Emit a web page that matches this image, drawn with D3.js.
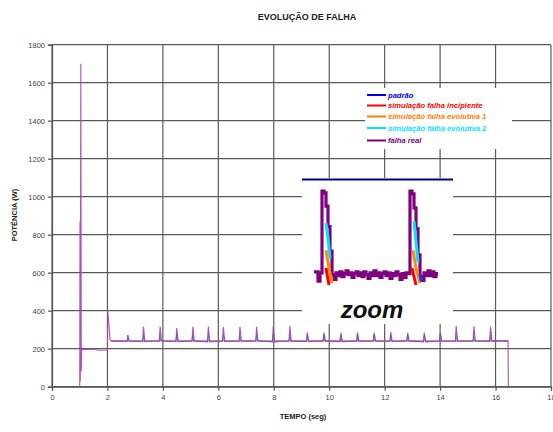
<!DOCTYPE html>
<html lang="pt">
<head>
<meta charset="UTF-8">
<title>Evolução de falha</title>
<script src="https://d3js.org/d3.v7.min.js"></script>
<style>
  body { margin: 0; background: #fff; }
  svg text { font-family: "Liberation Sans", Arial, sans-serif; }
</style>
</head>
<body>
<script>
  // ---- data ----
  const xTicks = [0, 2, 4, 6, 8, 10, 12, 14, 16, 18];
  const yTicks = [0, 200, 400, 600, 800, 1000, 1200, 1400, 1600, 1800];

  // falha real: start-up transient (tempo, potência)
  const startPoints = [[1.0, 0], [1.01, 870], [1.02, 30], [1.04, 1700], [1.055, 80], [1.07, 205],
    [1.1, 195], [1.4, 198], [1.7, 192], [2.0, 193], [2.01, 400], [2.05, 330], [2.09, 250], [2.15, 240]];
  // periodic peaks in steady state
  const spikeTimes = [2.74, 3.3, 3.9, 4.5, 5.08, 5.64, 6.18, 6.78, 7.38, 7.98, 8.58, 9.21, 9.81,
    10.42, 11.02, 11.62, 12.22, 12.83, 13.43, 14.01, 14.58, 15.22, 15.82];
  const spikeHeights = [264, 316, 316, 309, 316, 316, 314, 316, 315, 317, 319, 286, 285,
    284, 286, 285, 287, 284, 285, 286, 319, 318, 316];
  const spikeBase = [240, 238, 242, 237, 241, 236, 240, 239, 242, 236, 240, 238, 241,
    237, 240, 242, 238, 241, 236, 240, 239, 242, 240];
  const endPoints = [[16.1, 241], [16.45, 242], [16.46, 0]];

  // other series (mostly hidden behind falha real)
  const seriesNames = ["padrão", "simulação falha incipiente", "simulação falha evolutiva 1",
    "simulação falha evolutiva 2", "falha real"];
  const seriesColors = ["#0000ff", "#ff0000", "#ff8000", "#00e4ff", "#800080"];
  const otherPeaks = [272, 246, 254, 266];

  // zoom inset: sample index / relative amplitude
  const insetPurple = [14, 14, 4, 13, 100, 98, 84, 62, 36, 11, 6, 13, 10, 14, 9, 12, 15, 11, 13, 8,
    12, 14, 10, 13, 9, 14, 11, 7, 13, 10, 15, 10, 13, 8, 12, 14, 10, 13, 7, 12, 10, 14, 11, 6, 12, 8,
    13, 12, 100, 97, 82, 60, 32, 9, 5, 13, 10, 15, 10, 14, 9, 12, 12];
  const insetCyan = [[6, 66], [7, 50], [8, 28], null, [50, 68], [51, 46], [52, 24]];
  const insetOrange = [[6, 37], [7.5, 18], [9, 2], null, [49.5, 37], [51, 18], [53, 2]];
  const insetRed = [[6, 18], [7.5, 0], null, [49, 18], [51, 0]];
  const insetBlue = [[53, 12], [53.6, 4]];

  // ---- layout ----
  const W = 553, H = 432;
  const svg = d3.select("body").append("svg").attr("width", W).attr("height", H);
  svg.append("rect").attr("width", W).attr("height", H).attr("fill", "#fff");

  const x = d3.scaleLinear().domain([0, 18]).range([52, 551]);
  const y = d3.scaleLinear().domain([0, 1800]).range([386.7, 44.7]);

  // grid
  const grid = svg.append("g").attr("stroke", "#5a5a5a").attr("stroke-width", 1.2);
  grid.selectAll(".gx").data(xTicks).enter().append("line")
    .attr("x1", d => x(d)).attr("x2", d => x(d)).attr("y1", y(0)).attr("y2", y(1800));
  grid.selectAll(".gy").data(yTicks).enter().append("line")
    .attr("x1", x(0)).attr("x2", x(18)).attr("y1", d => y(d)).attr("y2", d => y(d));

  // axes
  const xAxis = svg.append("g").attr("transform", `translate(0,${y(0)})`)
    .call(d3.axisBottom(x).tickValues(xTicks).tickSize(4).tickPadding(4).tickFormat(d3.format("d")));
  const yAxis = svg.append("g").attr("transform", `translate(${x(0)},0)`)
    .call(d3.axisLeft(y).tickValues(yTicks).tickSize(4).tickPadding(3).tickFormat(d3.format("d")));
  [xAxis, yAxis].forEach(a => {
    a.select(".domain").attr("stroke", "#555").attr("stroke-width", 1.2);
    a.selectAll(".tick line").attr("stroke", "#555").attr("stroke-width", 1.2);
    a.selectAll("text").attr("font-size", 7.5).attr("fill", "#444");
  });

  // build series
  const purple = startPoints.slice();
  spikeTimes.forEach((t, i) => {
    purple.push([t - 0.03, spikeBase[i]], [t, spikeHeights[i]], [t + 0.05, spikeBase[i]]);
  });
  endPoints.forEach(p => purple.push(p));

  const line = d3.line().x(d => x(d[0])).y(d => y(d[1]));

  otherPeaks.forEach((pk, k) => {
    const pts = [[2.15, 240]];
    spikeTimes.forEach((t, i) => {
      const dt = 0.008 * (k - 1.5);
      pts.push([t - 0.02 + dt, 240], [t + 0.01 + dt, pk], [t + 0.04 + dt, 240]);
    });
    pts.push([16.45, 240]);
    svg.append("path").attr("d", line(pts)).attr("fill", "none")
      .attr("stroke", seriesColors[k]).attr("stroke-width", 1).attr("opacity", 0.55);
  });

  svg.append("path").attr("d", line(purple)).attr("fill", "none")
    .attr("stroke", "#a83cb0").attr("stroke-width", 1.1).attr("opacity", 0.9);

  // legend
  const lg = svg.append("g");
  lg.append("rect").attr("x", 365).attr("y", 88).attr("width", 147).attr("height", 61).attr("fill", "#fff");
  const legendY = [95, 105.5, 116.5, 128, 140.5];
  seriesNames.forEach((n, i) => {
    lg.append("line").attr("x1", 367).attr("x2", 386).attr("y1", legendY[i]).attr("y2", legendY[i])
      .attr("stroke", seriesColors[i]).attr("stroke-width", 2);
    lg.append("text").attr("x", 388).attr("y", legendY[i] + 2.8).text(n)
      .attr("font-size", 7.6).attr("font-style", "italic").attr("font-weight", "bold")
      .attr("fill", seriesColors[i]);
  });

  // zoom inset
  const ix = d3.scaleLinear().domain([0, 62]).range([314, 438]);
  const iy = d3.scaleLinear().domain([0, 100]).range([285, 191]);
  const ins = svg.append("g");
  ins.append("rect").attr("x", 302).attr("y", 178).attr("width", 151).attr("height", 146).attr("fill", "#fff");
  ins.append("line").attr("x1", 302).attr("x2", 453).attr("y1", 179.5).attr("y2", 179.5)
    .attr("stroke", "#000080").attr("stroke-width", 2);

  const stepLine = d3.line().x((d, i) => ix(i)).y(d => iy(d)).curve(d3.curveStepAfter);
  ins.append("path").attr("d", stepLine(insetPurple)).attr("fill", "none")
    .attr("stroke", "#800080").attr("stroke-width", 3.2).attr("stroke-linejoin", "miter");

  const segLine = d3.line().defined(d => d !== null).x(d => ix(d[0])).y(d => iy(d[1]));
  [[insetCyan, "#00e4ff"], [insetOrange, "#ff8c00"], [insetRed, "#ff0000"], [insetBlue, "#2030ff"]]
    .forEach(([data, c]) => {
      ins.append("path").attr("d", segLine(data)).attr("fill", "none")
        .attr("stroke", c).attr("stroke-width", 3);
    });

  ins.append("text").attr("x", 372).attr("y", 318).attr("text-anchor", "middle")
    .attr("font-size", 24).attr("font-style", "italic").attr("font-weight", "bold")
    .attr("fill", "#111").text("zoom");

  // titles
  svg.append("text").attr("x", 307).attr("y", 20).attr("text-anchor", "middle")
    .attr("font-size", 9).attr("font-weight", "bold").attr("fill", "#222").text("EVOLUÇÃO DE FALHA");
  svg.append("text").attr("x", 303).attr("y", 419).attr("text-anchor", "middle")
    .attr("font-size", 7.5).attr("font-weight", "bold").attr("fill", "#222").text("TEMPO (seg)");
  svg.append("text").attr("transform", "translate(17,215) rotate(-90)").attr("text-anchor", "middle")
    .attr("font-size", 7.5).attr("font-weight", "bold").attr("fill", "#222").text("POTÊNCIA (W)");
</script>
</body>
</html>
